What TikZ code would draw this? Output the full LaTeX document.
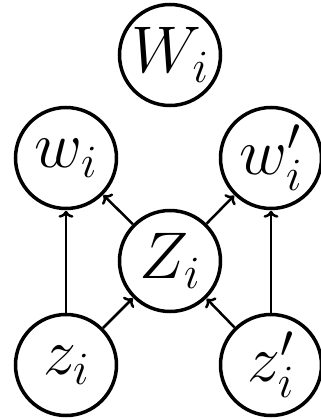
\RequirePackage{fix-cm}
\documentclass[tikz,border=0pt]{standalone}
\usetikzlibrary{arrows.meta}
\tikzset{
  var/.style={circle, draw, line width=3.5pt, minimum size=101pt, inner sep=0pt,
    font=\fontsize{66}{78}\selectfont},
  edge/.style={line width=2.5pt, -{To[length=7pt,width=15pt,line width=2.5pt]}, shorten >=0.5pt}
}
\begin{document}
\begin{tikzpicture}[x=1pt,y=1pt]
\useasboundingbox (0,0) rectangle (321,-420);
\node[var] (W) at (170,-55) {$W_i$};
\node[var] (w) at (66,-158) {$w_i$};
\node[var] (wp) at (271,-158) {$w'_i$};
\node[var] (Z) at (170,-261) {$Z_i$};
\node[var] (z) at (66,-365) {$z_i$};
\node[var] (zp) at (271,-365) {$z'_i$};
\draw[edge] (z) -- (w);
\draw[edge] (zp) -- (wp);
\draw[edge] (z) -- (Z);
\draw[edge] (zp) -- (Z);
\draw[edge] (Z) -- (w);
\draw[edge] (Z) -- (wp);
\end{tikzpicture}
\end{document}
